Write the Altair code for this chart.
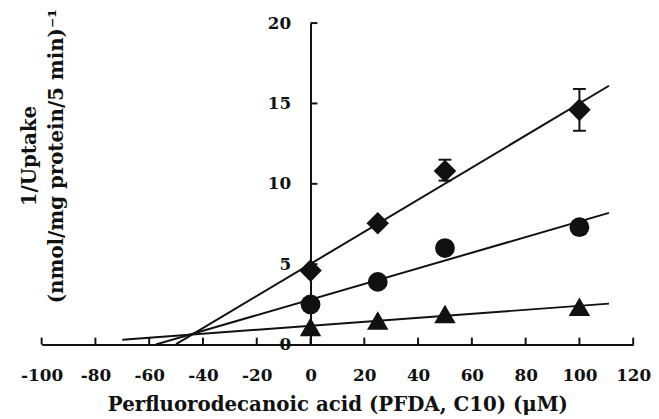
import altair as alt
import pandas as pd

# ---- data ----
conc = [0, 25, 50, 100]
diamond_y = [4.6, 7.55, 10.8, 14.6]
circle_y = [2.5, 3.9, 6.0, 7.3]
triangle_y = [1.1, 1.5, 1.9, 2.35]
series_names = ["diamond", "circle", "triangle"]
series_values = [diamond_y, circle_y, triangle_y]
line_start = [-50, -57.5, -70]
line_end = 111
err_x = [50, 100]
err_lo = [10.2, 13.3]
err_hi = [11.5, 15.9]
x_ticks = [-100, -80, -60, -40, -20, 0, 20, 40, 60, 80, 100, 120]
y_ticks = [0, 5, 10, 15, 20]
x_title = "Perfluorodecanoic acid (PFDA, C10) (\u03bcM)"
y_title = ["1/Uptake", "(nmol/mg protein/5 min)\u207b\u00b9"]

# ---- styling ----
W, H = 598, 325
FONT = "DejaVu Serif"
INK = "#111111"
XMIN, XMAX = -100, 120
Y_OFFSET = -W * (0 - XMIN) / (XMAX - XMIN)
marker_shape = {"diamond": "diamond", "circle": "circle", "triangle": "triangle-up"}
marker_size = {"diamond": 520, "circle": 400, "triangle": 470}

rows = []
for name, vals in zip(series_names, series_values):
    for xv, yv in zip(conc, vals):
        rows.append({"series": name, "x": xv, "y": yv})
df = pd.DataFrame(rows)
err_df = pd.DataFrame({"x": err_x, "lo": err_lo, "hi": err_hi})
xt_df = pd.DataFrame({"t": x_ticks})
yt_df = pd.DataFrame({"t": [v for v in y_ticks if v != 0]})

xscale = alt.Scale(domain=[XMIN, XMAX], nice=False, zero=False)
yscale = alt.Scale(domain=[0, 20], nice=False)

xaxis = alt.Axis(
    values=x_ticks, ticks=False, tickSize=0, grid=False,
    domainColor=INK, domainWidth=2,
    labelFont=FONT, labelFontWeight="bold", labelFontSize=17, labelColor=INK,
    labelBaseline="alphabetic", labelPadding=36, labelFlush=False, labelOverlap=False,
    labelExpr="replace(datum.label, '\u2212', '-')",
    title=x_title, titleFont=FONT, titleFontWeight="bold", titleFontSize=20,
    titleColor=INK, titleBaseline="alphabetic", titleY=67,
)
yaxis = alt.Axis(
    values=y_ticks, ticks=False, tickSize=0, grid=False, offset=Y_OFFSET,
    domainColor=INK, domainWidth=2,
    labelFont=FONT, labelFontWeight="bold", labelFontSize=17, labelColor=INK,
    labelPadding=20, labelFlush=False, labelOverlap=False,
    title=y_title, titleFont=FONT, titleFontWeight="bold", titleFontSize=20,
    titleColor=INK, titleX=-274, titleY=134, titleLineHeight=27,
)

base = alt.Chart(df)

layers = []
# regression lines
for name, start in zip(series_names, line_start):
    layers.append(
        base.transform_filter(alt.datum.series == name)
        .transform_regression("x", "y", extent=[start, line_end])
        .mark_line(color=INK, strokeWidth=2, clip=True)
        .encode(
            x=alt.X("x:Q", scale=xscale, axis=xaxis),
            y=alt.Y("y:Q", scale=yscale, axis=yaxis),
        )
    )

# tick marks pointing inward
layers.append(
    alt.Chart(xt_df).mark_rule(color=INK, strokeWidth=2).encode(
        x=alt.X("t:Q", scale=xscale), y=alt.value(H - 7), y2=alt.value(H)
    )
)
layers.append(
    alt.Chart(yt_df).mark_rule(color=INK, strokeWidth=2, x2Offset=7).encode(
        y=alt.Y("t:Q", scale=yscale), x=alt.datum(0), x2=alt.datum(0)
    )
)

# error bars
layers.append(
    alt.Chart(err_df).mark_rule(color=INK, strokeWidth=2).encode(
        x=alt.X("x:Q", scale=xscale), y=alt.Y("lo:Q", scale=yscale), y2="hi:Q"
    )
)
for col in ["lo", "hi"]:
    layers.append(
        alt.Chart(err_df).mark_tick(color=INK, thickness=2, size=13, orient="horizontal", opacity=1).encode(
            x=alt.X("x:Q", scale=xscale), y=alt.Y(f"{col}:Q", scale=yscale)
        )
    )

# markers
for name in series_names:
    layers.append(
        base.transform_filter(alt.datum.series == name)
        .mark_point(shape=marker_shape[name], size=marker_size[name], filled=True,
                    fill=INK, color=INK, opacity=1, strokeWidth=0)
        .encode(x=alt.X("x:Q", scale=xscale), y=alt.Y("y:Q", scale=yscale))
    )

chart = (
    alt.layer(*layers)
    .properties(
        width=W, height=H,
        autosize=alt.AutoSizeParams(type="none"),
        padding={"left": 34, "top": 13, "right": 18, "bottom": 72},
        background="white",
    )
    .configure_view(stroke=None)
)

chart.save("out.html", embed_options={"renderer": "svg", "actions": False})
